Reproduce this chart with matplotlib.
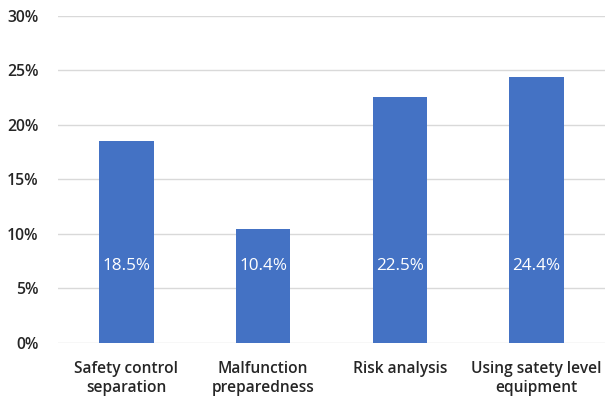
import matplotlib
matplotlib.use("Agg")
import matplotlib.pyplot as plt
from matplotlib.ticker import PercentFormatter

categories = ["Safety control\nseparation", "Malfunction\npreparedness",
              "Risk analysis", "Using satety level\nequipment"]
values = [18.5, 10.4, 22.5, 24.4]
yticks = [0, 5, 10, 15, 20, 25, 30]

plt.rcParams["font.family"] = ["Open Sans", "DejaVu Sans"]

fig = plt.figure(figsize=(6.10, 3.96), dpi=100)
ax = fig.add_axes([58 / 610, (396 - 342.7) / 396, (605 - 58) / 610, (342.7 - 15.7) / 396])

x = list(range(len(categories)))
ax.bar(x, values, width=0.40, color="#4472c4", zorder=3)
for xi, v in zip(x, values):
    ax.text(xi, 7.0, f"{v}%", ha="center", va="center", color="white", fontsize=12.3, zorder=4)

ax.set_xlim(-0.5, len(categories) - 0.5)
ax.set_ylim(0, 30)
ax.set_yticks(yticks)
ax.yaxis.set_major_formatter(PercentFormatter(decimals=0))
ax.grid(axis="y", color="#d9d9d9", linewidth=1.0, zorder=0)
for s in ax.spines.values():
    s.set_visible(False)
ax.tick_params(axis="both", length=0, colors="#404040")
ax.tick_params(axis="y", pad=14, labelsize=11.3)
ax.tick_params(axis="x", pad=13, labelsize=11.2)
ax.set_xticks(x)
ax.set_xticklabels(categories, linespacing=1.25)
for lbl in ax.get_yticklabels() + ax.get_xticklabels():
    lbl.set_fontweight("semibold")
    lbl.set_color("#262626")

fig.savefig("out.png", dpi=100)
